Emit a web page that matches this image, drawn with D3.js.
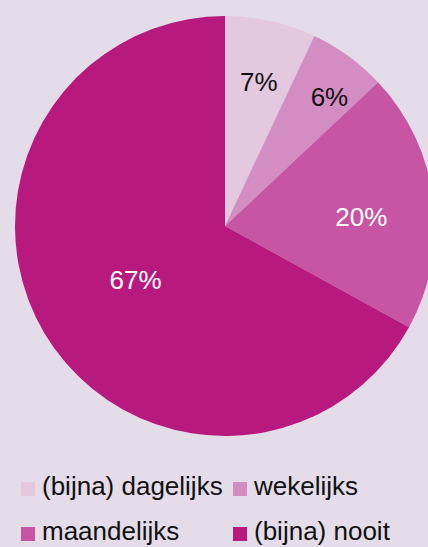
<!DOCTYPE html>
<html>
<head>
<meta charset="utf-8">
<script src="https://cdn.jsdelivr.net/npm/d3@7"></script>
<style>
  body { margin: 0; background: #e4dde9; }
  svg { display: block; font-family: "Liberation Sans", Arial, sans-serif; }
</style>
</head>
<body>
<svg id="chart" width="428" height="547"></svg>
<script>
// data
categories = ["(bijna) dagelijks", "wekelijks", "maandelijks", "(bijna) nooit"]
values = [7, 6, 20, 67]
labels = ["7%", "6%", "20%", "67%"]
colors = ["#e3c8e0", "#d48dc2", "#c755a3", "#b8197f"]
labelColors = ["#111", "#111", "#fff", "#fff"]

svg = d3.select("#chart")
width = 428
height = 547
cx = 225
cy = 226
radius = 210

pie = d3.pie().sort(null).value(d => d)
arcs = pie(values)
arc = d3.arc().innerRadius(0).outerRadius(radius)

g = svg.append("g").attr("transform", `translate(${cx},${cy})`)

g.selectAll("path")
    .data(arcs)
    .enter()
    .append("path")
    .attr("d", arc)
    .attr("fill", (d, i) => colors[i])

// label placement (radius as fraction, small angle shift in degrees)
labelR = [0.706, 0.792, 0.651, 0.497]
labelShift = [0.6, 2.9, 3.2, -0.4]
g.selectAll("text.lbl")
    .data(arcs)
    .enter()
    .append("text")
    .attr("class", "lbl")
    .attr("transform", function(d, i){
        a = (d.startAngle + d.endAngle) / 2 + labelShift[i] * Math.PI / 180
        r = radius * labelR[i]
        return `translate(${r * Math.sin(a)},${-r * Math.cos(a)})`
    })
    .attr("text-anchor", "middle")
    .attr("dy", "0.35em")
    .attr("font-size", 26)
    .attr("fill", (d, i) => labelColors[i])
    .text((d, i) => labels[i])

// legend
legendX = [21, 233]
legendY = [489, 534]
leg = svg.selectAll("g.leg")
    .data(categories)
    .enter()
    .append("g")
    .attr("class", "leg")
    .attr("transform", (d, i) => `translate(${legendX[i % 2]},${legendY[Math.floor(i / 2)]})`)
leg.append("rect")
    .attr("x", 0).attr("y", -7)
    .attr("width", 14).attr("height", 14)
    .attr("fill", (d, i) => colors[i])
leg.append("text")
    .attr("x", 21)
    .attr("dy", "0.24em")
    .attr("font-size", 26)
    .attr("fill", "#111")
    .text(d => d)
</script>
</body>
</html>
